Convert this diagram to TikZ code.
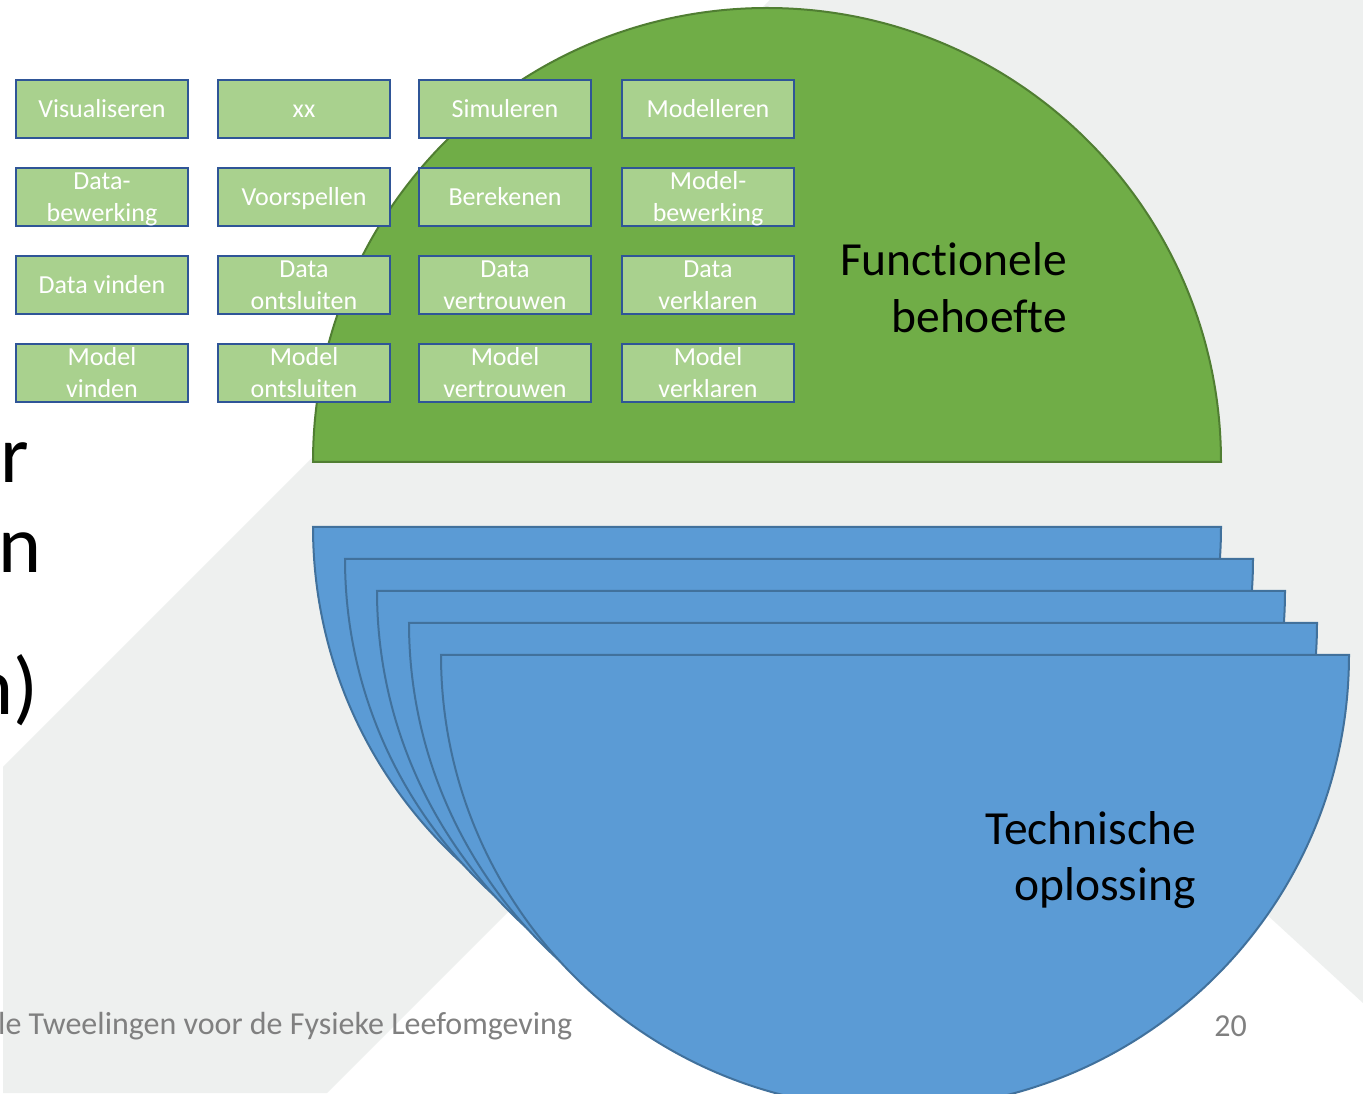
\documentclass[tikz,border=0pt]{standalone}
\usepackage{fontspec}
\setmainfont{Carlito}[Ligatures=NoCommon]
\definecolor{bggrey}{RGB}{238,240,239}
\definecolor{greenfill}{RGB}{112,173,71}
\definecolor{greenline}{RGB}{80,126,50}
\definecolor{boxfill}{RGB}{169,209,142}
\definecolor{boxline}{RGB}{47,85,151}
\definecolor{bluefill}{RGB}{91,155,213}
\definecolor{blueline}{RGB}{65,113,156}
\definecolor{footgrey}{RGB}{128,128,128}
\newcommand\bxs{\rule[-3.9pt]{0pt}{25.8pt}}
\tikzset{
  fbox/.style={draw=boxline, fill=boxfill, line width=2.5pt, minimum width=172pt, minimum height=58pt,
    inner sep=0pt, text=white, font=\fontsize{26}{32}\selectfont, align=center},
  biglbl/.style={inner sep=0pt, text=black, font=\fontsize{47.5}{57}\selectfont},
  sidetxt/.style={inner sep=0pt, text=black, font=\fontsize{82}{98}\selectfont},
  foottxt/.style={inner sep=0pt, text=footgrey, font=\fontsize{32}{38}\selectfont},
  halfdisc/.style={line width=2pt}
}
\begin{document}
\begin{tikzpicture}[x=1pt,y=1pt]
\useasboundingbox (0,0) rectangle (1363,1093);
\fill[white] (0,0) rectangle (1363,1093);
% background band of the slide template
\fill[bggrey] (770,1093) -- (1363,1093) -- (1363,90) -- (870,543) -- (327,0) -- (3,0) -- (3,326) -- cycle;

% left slide text (cut off)
\node[sidetxt, anchor=base west] (s1) at (0,610) {r};
\node[sidetxt, anchor=base west] (s2) at (-2,520) {n};
\node[sidetxt, anchor=base west] (s3) at (-30,378) {n)};

% green half disc
\filldraw[halfdisc, fill=greenfill, draw=greenline] (313,631) arc[start angle=180,end angle=0,radius=454] -- cycle;

% blue stacked half discs
\foreach \k in {0,...,4}{
  \filldraw[halfdisc, fill=bluefill, draw=blueline] ({313+32*\k},{566-32*\k}) arc[start angle=180,end angle=360,radius=454] -- cycle;
}

% function boxes
\node[fbox] (b11) at (102,984) {\bxs Visualiseren\bxs};
\node[fbox] (b12) at (304,984) {\bxs xx\bxs};
\node[fbox] (b13) at (505,984) {\bxs Simuleren\bxs};
\node[fbox] (b14) at (708,984) {\bxs Modelleren\bxs};
\node[fbox] (b21) at (102,896) {\bxs Data-\\bewerking\bxs};
\node[fbox] (b22) at (304,896) {\bxs Voorspellen\bxs};
\node[fbox] (b23) at (505,896) {\bxs Berekenen\bxs};
\node[fbox] (b24) at (708,896) {\bxs Model-\\bewerking\bxs};
\node[fbox] (b31) at (102,808) {\bxs Data vinden\bxs};
\node[fbox] (b32) at (304,808) {\bxs Data\\ontsluiten\bxs};
\node[fbox] (b33) at (505,808) {\bxs Data\\vertrouwen\bxs};
\node[fbox] (b34) at (708,808) {\bxs Data\\verklaren\bxs};
\node[fbox] (b41) at (102,720) {\bxs Model\\vinden\bxs};
\node[fbox] (b42) at (304,720) {\bxs Model\\ontsluiten\bxs};
\node[fbox] (b43) at (505,720) {\bxs Model\\vertrouwen\bxs};
\node[fbox] (b44) at (708,720) {\bxs Model\\verklaren\bxs};

% big labels
\node[biglbl, anchor=base east] (fb1) at (1067,817) {Functionele};
\node[biglbl, anchor=base east] (fb2) at (1067,760) {behoefte};
\node[biglbl, anchor=base east] (to1) at (1196,248) {Technische};
\node[biglbl, anchor=base east] (to2) at (1196,192) {oplossing};

% footer
\node[foottxt, anchor=base west] (foot) at (-2,59) {le Tweelingen voor de Fysieke Leefomgeving};
\node[foottxt, anchor=base east] (pnum) at (1247,57) {20};
\end{tikzpicture}
\end{document}
